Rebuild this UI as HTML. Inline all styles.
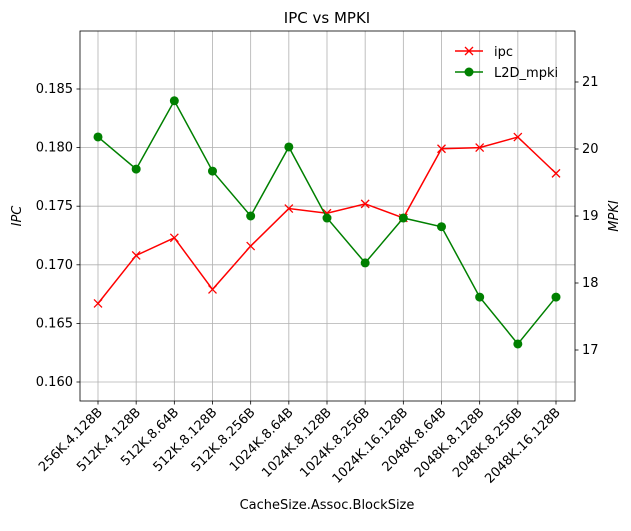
<!DOCTYPE html>
<html><head><meta charset="utf-8"><style>
body{margin:0;background:#fff;font-family:"Liberation Sans","DejaVu Sans",sans-serif;}
svg text{font-family:"DejaVu Sans","Liberation Sans",sans-serif;}
</style></head><body>
<svg id="c" width="631" height="526" xmlns="http://www.w3.org/2000/svg"></svg>
<script>
const categories=["256K.4.128B","512K.4.128B","512K.8.64B","512K.8.128B","512K.8.256B","1024K.8.64B","1024K.8.128B","1024K.8.256B","1024K.16.128B","2048K.8.64B","2048K.8.128B","2048K.8.256B","2048K.16.128B"];
const ipcValues=[0.1667,0.1708,0.1723,0.1679,0.1716,0.1748,0.1744,0.1752,0.1740,0.1799,0.1800,0.1809,0.1778];
const mpkiValues=[20.18,19.70,20.72,19.67,19.00,20.03,18.97,18.30,18.97,18.84,17.79,17.09,17.79];
const leftTicks=[0.160,0.165,0.170,0.175,0.180,0.185];
const rightTicks=[17,18,19,20,21];
const NS="http://www.w3.org/2000/svg";
const svg=document.getElementById('c');
const L=80,R=575,T=31,B=401;
const yL=v=>382-(v-0.160)/0.005*58.6;
const yR=v=>350-(v-17)*67;
const x=i=>98+i*(556-98)/(categories.length-1);
function el(t,a,p){const e=document.createElementNS(NS,t);for(const k in a)e.setAttribute(k,a[k]);(p||svg).appendChild(e);return e;}
categories.forEach((c,i)=>{const g=el('line',{x1:x(i),x2:x(i),y1:T,y2:B,stroke:'#b0b0b0','stroke-width':0.8});

});
leftTicks.forEach(v=>{const g=el('line',{x1:L,x2:R,y1:yL(v),y2:yL(v),stroke:'#b0b0b0','stroke-width':0.8});

});
const fr=el('rect',{x:L,y:T,width:R-L,height:B-T,fill:'none',stroke:'#000','stroke-width':0.8});


leftTicks.forEach(v=>{const y=yL(v);el('line',{x1:L-3.5,x2:L,y1:y,y2:y,stroke:'#000','stroke-width':0.8});
const t=el('text',{x:L-7,y:y+4,'text-anchor':'end','font-size':13});t.textContent=v.toFixed(3);

});
rightTicks.forEach(v=>{const y=yR(v);el('line',{x1:R,x2:R+3.5,y1:y,y2:y,stroke:'#000','stroke-width':0.8});
const t=el('text',{x:R+7,y:y+4,'font-size':13});t.textContent=v;

});
categories.forEach((c,i)=>{el('line',{x1:x(i),x2:x(i),y1:B,y2:B+3.5,stroke:'#000','stroke-width':0.8});
const t=el('text',{x:x(i)+5,y:B+12,'text-anchor':'end','font-size':13,transform:`rotate(-45 ${x(i)+5} ${B+12})`});t.textContent=c;

});
const ip=el('polyline',{points:ipcValues.map((v,i)=>x(i)+','+yL(v)).join(' '),fill:'none',stroke:'#ff0000','stroke-width':1.5});


ipcValues.forEach((v,i)=>{const X=x(i),Y=yL(v);const p=el('path',{d:`M${X-4} ${Y-4}L${X+4} ${Y+4}M${X-4} ${Y+4}L${X+4} ${Y-4}`,stroke:'#ff0000','stroke-width':1.3});

});
const mp=el('polyline',{points:mpkiValues.map((v,i)=>x(i)+','+yR(v)).join(' '),fill:'none',stroke:'#008000','stroke-width':1.5});


mpkiValues.forEach((v,i)=>{const p=el('circle',{cx:x(i),cy:yR(v),r:4.5,fill:'#008000'});

});
function txt(s,a,n){const t=el('text',a);t.textContent=s;return t;}
txt('IPC vs MPKI',{x:327,y:23,'text-anchor':'middle','font-size':15},'chart-title');
txt('CacheSize.Assoc.BlockSize',{x:327,y:509,'text-anchor':'middle','font-size':13},'x-axis-title');
txt('IPC',{x:21,y:216,'text-anchor':'middle','font-size':13,'font-style':'italic',transform:'rotate(-90 21 216)'},'left-axis-title');
txt('MPKI',{x:618,y:216,'text-anchor':'middle','font-size':13,'font-style':'italic',transform:'rotate(-90 618 216)'},'right-axis-title');
el('line',{x1:455,x2:483,y1:51,y2:51,stroke:'#ff0000','stroke-width':1.5});
el('path',{d:'M465 47L473 55M465 55L473 47',stroke:'#ff0000','stroke-width':1.3});
txt('ipc',{x:494,y:56,'font-size':13},'legend-ipc');
el('line',{x1:455,x2:483,y1:72,y2:72,stroke:'#008000','stroke-width':1.5});
el('circle',{cx:469,cy:72,r:4.5,fill:'#008000'});
txt('L2D_mpki',{x:494,y:77,'font-size':13},'legend-mpki');
</script>
</body></html>
